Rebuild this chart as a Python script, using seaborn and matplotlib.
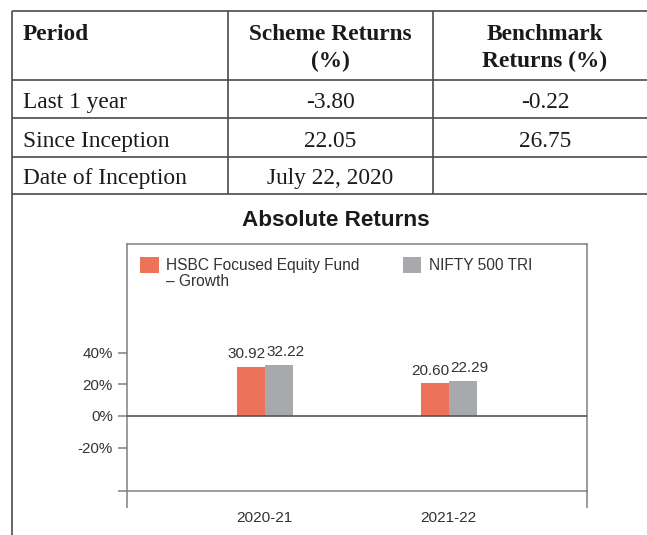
import matplotlib
matplotlib.use("Agg")
import matplotlib.pyplot as plt
from matplotlib.lines import Line2D
from matplotlib import font_manager as fm
import seaborn as sns
import pandas as pd

# ---------------- data ----------------
table_header = ["Period", "Scheme Returns\n(%)", "Benchmark\nReturns (%)"]
row_periods = ["Last 1 year", "Since Inception", "Date of Inception"]
row_scheme = ["-3.80", "22.05", "July 22, 2020"]
row_bench = ["-0.22", "26.75", ""]

chart_title = "Absolute Returns"
years = ["2020-21", "2021-22"]
series_names = ["HSBC Focused Equity Fund", "NIFTY 500 TRI"]
series_extra_line = "– Growth"
fund_values = [30.92, 20.60]
bench_values = [32.22, 22.29]
y_ticks = [-20, 0, 20, 40]
y_tick_labels = ["-20%", "0%", "20%", "40%"]

# ---------------- style ----------------
sns.set_style("white")
names = {f.name for f in fm.fontManager.ttflist}
if "Liberation Sans Narrow" in names:
    SANS = "Liberation Sans Narrow"
    SZ = 12.5
else:
    SANS = "Liberation Sans"
    SZ = 10.6
plt.rcParams["font.family"] = [SANS, "DejaVu Sans"]

W, H = 647, 535
ORANGE = "#ED725A"
GRAY = "#A8A9AD"
LINE = "#4a4a4a"
SPINE = "#808080"
TXT = "#333333"

fig = plt.figure(figsize=(W / 100, H / 100), dpi=100)


def fx(x):
    return x / W


def fy(y):
    return 1 - y / H


def hline(y, x0, x1, color=LINE, lw=1.2):
    fig.add_artist(Line2D([fx(x0), fx(x1)], [fy(y), fy(y)], transform=fig.transFigure,
                          color=color, lw=lw, solid_capstyle="butt"))


def vline(x, y0, y1, color=LINE, lw=1.2):
    fig.add_artist(Line2D([fx(x), fx(x)], [fy(y0), fy(y1)], transform=fig.transFigure,
                          color=color, lw=lw, solid_capstyle="butt"))


# ---------------- table ----------------
left, c1, c2, right = 11.7, 228, 433, 647
row_lines = [11, 80, 118, 157, 194.5]
for y in row_lines:
    hline(y, left, right)
vline(left, 11, 535)
vline(c1, 11, 194.5)
vline(c2, 11, 194.5)

SERIF = "Liberation Serif"
TFS = 16.8
col_x = [22.7, (c1 + c2) / 2, 545]
col_ha = ["left", "center", "center"]
for txt, x, ha in zip(table_header, col_x, col_ha):
    for k, line in enumerate(txt.split("\n")):
        fig.text(fx(x), fy(40.5 + 26.8 * k), line, ha=ha, va="baseline", family=SERIF,
                 weight="bold", fontsize=TFS, color="#1a1a1a")

for i in range(len(row_periods)):
    yb = row_lines[i + 2] - 10.3
    for txt, x, ha in zip([row_periods[i], row_scheme[i], row_bench[i]], col_x, col_ha):
        fig.text(fx(x), fy(yb), txt, ha=ha, va="baseline", family=SERIF,
                 fontsize=TFS, color="#1a1a1a")

# ---------------- chart ----------------
fig.text(fx(335.4), fy(225.7), chart_title, ha="center", va="baseline",
         family="Liberation Sans", weight="bold", fontsize=16.2, color="#1a1a1a")

ax_l, ax_r, ax_t, ax_b = 126.7, 586.7, 244, 491
ax = fig.add_axes([fx(ax_l), fy(ax_b), (ax_r - ax_l) / W, (ax_b - ax_t) / H])

df = pd.DataFrame({
    "year": years * 2,
    "value": fund_values + bench_values,
    "series": [series_names[0]] * len(years) + [series_names[1]] * len(years),
})

sns.barplot(data=df, x="year", y="value", hue="series", palette=[ORANGE, GRAY],
            saturation=1, width=0.304, linewidth=0, ax=ax, legend=True)

ax.set_ylim(-47.4, 108.7)
ax.set_xlim(-0.75, 1.75)
ax.set_xlabel("")
ax.set_ylabel("")
ax.set_yticks(y_ticks)
ax.set_yticklabels(y_tick_labels)
ax.tick_params(axis="y", length=6.5, width=1.1, color=SPINE, pad=3.4,
               labelsize=SZ + 0.3, labelcolor=TXT, left=True)
ax.tick_params(axis="x", length=0, pad=14.5, labelsize=SZ + 0.5, labelcolor=TXT)
for s in ax.spines.values():
    s.set_color(SPINE)
    s.set_linewidth(1.1)
    s.set_visible(True)

ax.axhline(0, color="#555555", lw=1.2, zorder=3)

# spine extensions
ext = dict(transform=ax.transAxes, clip_on=False, color=SPINE, lw=1.1, solid_capstyle="butt")
ax.add_line(Line2D([0, 0], [0, -17 / 247], **ext))
ax.add_line(Line2D([1, 1], [0, -17 / 247], **ext))
ax.add_line(Line2D([-9 / 460, 0], [0, 0], **ext))

# data labels
for cont, dx in zip(ax.containers, [-3.2, 4.9]):
    for bar in cont:
        v = bar.get_height()
        ax.annotate(f"{v:.2f}", (bar.get_x() + bar.get_width() / 2, v),
                    xytext=(dx, 6.3), textcoords="offset points", ha="center",
                    va="baseline", fontsize=SZ + 0.4, color=TXT)

# legend
handles, labels = ax.get_legend_handles_labels()
leg = ax.legend(handles, labels, loc="upper left", bbox_to_anchor=(13.3 / 460, 1 - 13 / 247),
                ncol=2, frameon=False, fontsize=SZ + 0.6, handlelength=1.2, handleheight=1.2,
                handletextpad=0.5, columnspacing=2.75, borderpad=0, borderaxespad=0)
for t in leg.get_texts():
    t.set_color(TXT)

fig.canvas.draw()
bb = leg.get_texts()[0].get_window_extent()
ax.text(bb.x0, bb.y0 - 16, series_extra_line, transform=None, ha="left", va="bottom",
        fontsize=SZ + 0.6, color=TXT)

fig.savefig("out.png", dpi=100)
